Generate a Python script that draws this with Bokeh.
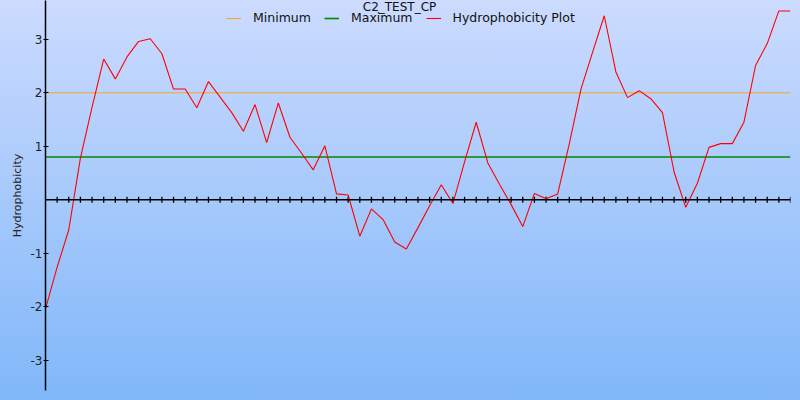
import numpy as np
from bokeh.plotting import figure
from bokeh.models import Range1d, FixedTicker, Span, Legend, LegendItem, Label
from bokeh.embed import file_html
from bokeh.resources import INLINE

# ---- data ----
positions = list(range(65))
hydrophobicity = [
    -2.04, -1.26, -0.56, 0.78, 1.73, 2.63, 2.26, 2.67, 2.96, 3.01,
    2.73, 2.07, 2.07, 1.72, 2.21, 1.92, 1.63, 1.28, 1.78, 1.07,
    1.81, 1.17, 0.87, 0.56, 1.01, 0.11, 0.09, -0.68, -0.17, -0.37,
    -0.79, -0.92, -0.52, -0.11, 0.28, -0.07, 0.71, 1.45, 0.69, 0.29,
    -0.09, -0.50, 0.12, 0.02, 0.11, 1.05, 2.07, 2.76, 3.44, 2.39,
    1.91, 2.04, 1.89, 1.63, 0.52, -0.14, 0.31, 0.98, 1.05, 1.05,
    1.45, 2.51, 2.92, 3.53, 3.53,
]
minimum_level = 2.0
maximum_level = 0.8
level_x = [positions[0], positions[-1]]
y_ticks = [-3, -2, -1, 1, 2, 3]
y_tick_labels = {t: str(t) for t in y_ticks}
x_ticks = list(range(1, 65))
title_text = "C2_TEST_CP"
y_label = "Hydrophobicity"
series_labels = ["Minimum", "Maximum", "Hydrophobicity Plot"]

FONT = "DejaVu Sans"

p = figure(width=800, height=400, output_backend="svg", toolbar_location=None,
           x_range=Range1d(0, 64), y_range=Range1d(-3.564, 3.725),
           x_axis_location=None,
           min_border_left=45, min_border_right=10,
           min_border_top=0, min_border_bottom=10)
p.styles = {"background": "linear-gradient(180deg, #ccdbfe 0%, #80b7f9 100%)"}
p.border_fill_alpha = 0
p.background_fill_alpha = 0
p.outline_line_color = None
p.grid.visible = False

# y axis
ax = p.yaxis[0]
ax.ticker = FixedTicker(ticks=y_ticks, minor_ticks=[])
ax.major_label_overrides = y_tick_labels
ax.axis_line_color = "black"
ax.axis_line_width = 1.5
ax.major_tick_line_color = "black"
ax.major_tick_line_width = 1.2
ax.major_tick_in = 3
ax.major_tick_out = 2
ax.minor_tick_line_color = None
ax.major_label_standoff = 1
ax.major_label_text_font = FONT
ax.major_label_text_font_size = "12px"
ax.major_label_text_color = "#222222"
ax.axis_label = y_label
ax.axis_label_text_font = FONT
ax.axis_label_text_font_size = "11px"
ax.axis_label_text_font_style = "normal"
ax.axis_label_text_color = "#222222"
ax.axis_label_standoff = 4

# x axis drawn through zero
p.add_layout(Span(location=0, dimension="width", line_color="black", line_width=1.5))
p.scatter(x=x_ticks, y=[0] * len(x_ticks), marker="dash", angle=np.pi / 2,
          size=6, line_color="black", line_width=1.3)

r_min = p.line(level_x, [minimum_level] * 2, line_color="#f5a623", line_width=1)
r_max = p.line(level_x, [maximum_level] * 2, line_color="#008800", line_width=1.6)
r_h = p.line(positions, hydrophobicity, line_color="#ff0000", line_width=1.1)

legend = Legend(items=[LegendItem(label=series_labels[0], renderers=[r_min]),
                       LegendItem(label=series_labels[1], renderers=[r_max]),
                       LegendItem(label=series_labels[2], renderers=[r_h])],
                orientation="horizontal", location=(181, 365),
                background_fill_alpha=0, border_line_color=None,
                label_text_font=FONT, label_text_font_size="12.5px",
                label_text_color="#111111",
                glyph_width=15, glyph_height=10, label_height=14,
                label_standoff=12, spacing=13, padding=0, margin=0)
p.add_layout(legend, "center")

p.add_layout(Label(x=354, y=384, x_units="screen", y_units="screen",
                   text=title_text, text_align="center", text_baseline="alphabetic",
                   text_font=FONT, text_font_size="12px", text_color="#111111"))

open("out.html", "w").write(file_html(p, INLINE))
